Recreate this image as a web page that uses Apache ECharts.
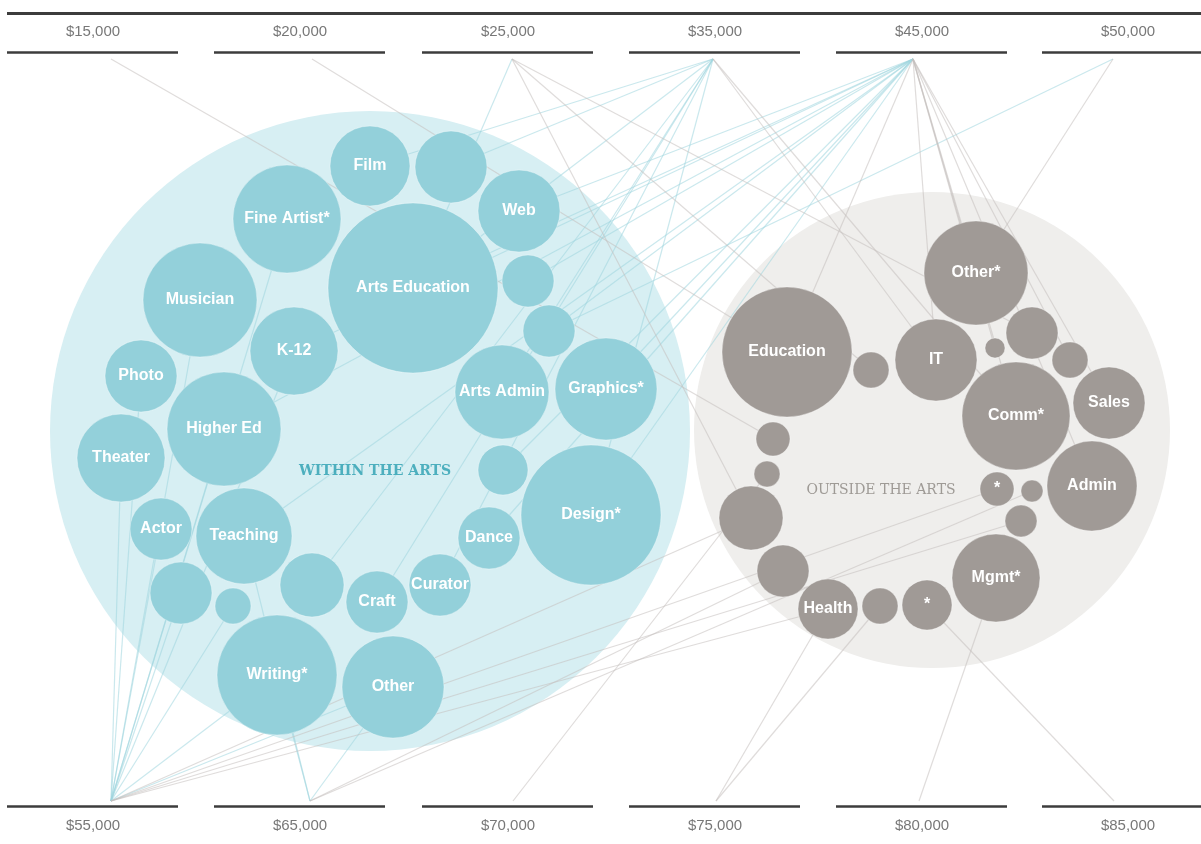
<!DOCTYPE html>
<html>
<head>
<meta charset="utf-8">
<script src="https://cdn.jsdelivr.net/npm/echarts@6/dist/echarts.min.js"></script>
<style>
html,body{margin:0;padding:0;background:#ffffff;}
#c{width:1201px;height:844px;}
</style>
</head>
<body>
<div id="c"></div>
<script>
// ---------- salary brackets (tick labels) ----------
const topSalaries = ['$15,000','$20,000','$25,000','$35,000','$45,000','$50,000'];
const bottomSalaries = ['$55,000','$65,000','$70,000','$75,000','$80,000','$85,000'];

// ---------- groups ----------
const groupNames = ['WITHIN THE ARTS','OUTSIDE THE ARTS'];
const groupRadius = [320, 238];

// ---------- occupations within the arts ----------
const withinNames = ['Film','','Web','Arts Education','','','Arts Admin','Graphics*','Fine Artist*','Musician',
  'K-12','Photo','Higher Ed','Theater','Actor','Teaching','','','','Writing*',
  'Craft','Curator','Dance','','Design*','Other'];
const withinRadius = [40,36,41,85,26,26,47,51,54,57, 44,36,57,44,31,48,31,18,32,60, 31,31,31,25,70,51];
const withinSalary = [
  ['$35,000'],['$35,000'],['$45,000'],['$25,000','$35,000','$45,000'],['$45,000'],['$45,000','$50,000'],
  ['$35,000'],['$45,000'],['$55,000'],['$55,000'],
  ['$45,000','$55,000'],['$55,000'],['$45,000','$55,000'],['$55,000'],['$55,000'],['$45,000','$65,000'],
  ['$55,000'],['$55,000'],['$35,000'],['$55,000','$65,000'],
  ['$35,000'],['$35,000'],['$45,000'],['$45,000'],['$45,000','$35,000'],['$55,000','$65,000']
];

// ---------- occupations outside the arts ----------
const outsideNames = ['Other*','Education','','IT','','','','Comm*','Sales','Admin',
  '*','','','Mgmt*','*','','Health','','','',''];
const outsideRadius = [52,65,18,41,10,26,18,54,36,45, 17,11,16,44,25,18,30,26,32,13,17];
const outsideSalary = [
  ['$45,000','$50,000'],['$45,000','$20,000'],['$25,000'],['$35,000','$45,000'],['$45,000'],['$25,000'],['$45,000'],
  ['$35,000','$45,000'],['$45,000'],['$45,000'],
  ['$55,000'],['$65,000'],['$55,000'],['$80,000'],['$85,000'],['$75,000'],['$75,000','$55,000'],
  ['$65,000'],['$25,000','$55,000'],['$70,000'],['$15,000']
];

// ---------- layout (pixel-like plane 1201 x 844) ----------
const layout = {
  groupX: [370, 932], groupY: [431, 430],
  groupLabelX: [375, 881], groupLabelY: [471, 490],
  withinX: [370,451,519,413,528,549,502,606,287,200, 294,141,224,121,161,244,181,233,312,277, 377,440,489,503,591,393],
  withinY: [166,167,211,288,281,331,392,389,219,300, 351,376,429,458,529,536,593,606,585,675, 602,585,538,470,515,687],
  outsideX: [976,787,871,936,995,1032,1070,1016,1109,1092, 997,1032,1021,996,927,880,828,783,751,767,773],
  outsideY: [273,352,370,360,348,333,360,416,403,486, 489,491,521,578,605,606,609,571,518,474,439],
  topAnchorX: [111,312,512,713,913,1113], topAnchorY: 59,
  bottomAnchorX: [111,310,513,716,919,1114], bottomAnchorY: 801,
  bracketStartX: [7,214,422,629,836,1042], bracketWidth: 171,
  topBracketY: 52, topLabelY: 32, topRuleY: 13,
  bottomBracketY: 806, bottomLabelY: 826
};

const TEAL = '#93d0da', TEAL_BG = '#d7eff3', GREY = '#a09a96', GREY_BG = '#efeeec';

const anchors = {};
topSalaries.forEach((s,i)=>{ anchors[s] = [layout.topAnchorX[i], layout.topAnchorY]; });
bottomSalaries.forEach((s,i)=>{ anchors[s] = [layout.bottomAnchorX[i], layout.bottomAnchorY]; });

function bubbleData(names, xs, ys, rs){
  return names.map((n,i)=>({name:n, value:[xs[i], ys[i], rs[i]]}));
}
function linkData(xs, ys, sal, color){
  const out = [];
  sal.forEach((list,i)=>{
    list.forEach(s=>{
      out.push({coords:[anchors[s], [xs[i], ys[i]]], lineStyle:{color:color}});
    });
  });
  return out;
}

const bracketLines = [];
layout.bracketStartX.forEach(x=>{
  const x2 = Math.min(x + layout.bracketWidth, 1201);
  bracketLines.push({coords:[[x, layout.topBracketY],[x2, layout.topBracketY]]});
  bracketLines.push({coords:[[x, layout.bottomBracketY],[x2, layout.bottomBracketY]]});
});
bracketLines.push({coords:[[7, layout.topRuleY],[1201, layout.topRuleY]], lineStyle:{width:3}});

const headerLabels = [];
topSalaries.forEach((s,i)=>headerLabels.push({name:s, value:[layout.bracketStartX[i] + 86, layout.topLabelY]}));
bottomSalaries.forEach((s,i)=>headerLabels.push({name:s, value:[layout.bracketStartX[i] + 86, layout.bottomLabelY]}));

const bubbleLabel = {
  show: true, position: 'inside', formatter: p => p.name,
  color: '#ffffff', fontFamily: 'Liberation Sans, Arial, sans-serif', fontSize: 16, fontWeight: 'bold'
};

const chart = echarts.init(document.getElementById('c'), null, {renderer:'canvas'});
chart.setOption({
  animation: false,
  backgroundColor: '#ffffff',
  grid: {left:0, right:0, top:0, bottom:0, containLabel:false},
  xAxis: {type:'value', min:0, max:1201, show:false},
  yAxis: {type:'value', min:0, max:844, inverse:true, show:false},
  series: [
    {
      type:'scatter', z:1, silent:true, clip:false,
      data: groupNames.map((n,i)=>({name:n, value:[layout.groupX[i], layout.groupY[i], groupRadius[i]],
        itemStyle:{color: i===0 ? TEAL_BG : GREY_BG, opacity: 1}})),
      symbolSize: v => v[2]*2
    },
    {
      type:'lines', coordinateSystem:'cartesian2d', z:2, silent:true,
      lineStyle:{width:1.2, opacity:0.55},
      data: linkData(layout.withinX, layout.withinY, withinSalary, '#9fd6de')
        .concat(linkData(layout.outsideX, layout.outsideY, outsideSalary, '#c4c0bd'))
    },
    {
      type:'scatter', z:3, silent:true, clip:false,
      data: bubbleData(withinNames, layout.withinX, layout.withinY, withinRadius),
      symbolSize: v => v[2]*2,
      itemStyle:{color:TEAL, opacity:1, borderColor:'rgba(255,255,255,0.35)', borderWidth:1},
      label: bubbleLabel
    },
    {
      type:'scatter', z:3, silent:true, clip:false,
      data: bubbleData(outsideNames, layout.outsideX, layout.outsideY, outsideRadius),
      symbolSize: v => v[2]*2,
      itemStyle:{color:GREY, opacity:1, borderColor:'rgba(255,255,255,0.35)', borderWidth:1},
      label: bubbleLabel
    },
    {
      type:'scatter', z:4, silent:true, clip:false,
      symbolSize: 0,
      data: groupNames.map((n,i)=>({name:n, value:[layout.groupLabelX[i], layout.groupLabelY[i]],
        label:{color: i===0 ? '#2a9fb0' : '#8a8580', fontWeight: i===0 ? 'bold' : 'normal'}})),
      label:{show:true, position:'inside', formatter:p=>p.name, fontFamily:'DejaVu Serif, serif', fontSize:14}
    },
    {
      type:'lines', coordinateSystem:'cartesian2d', z:4, silent:true,
      lineStyle:{color:'#3c3c3c', width:2.5, opacity:1},
      data: bracketLines
    },
    {
      type:'scatter', z:4, silent:true, clip:false, symbolSize:0,
      data: headerLabels,
      label:{show:true, position:'inside', formatter:p=>p.name, color:'#555555',
        fontFamily:'Liberation Sans, Arial, sans-serif', fontSize:15}
    }
  ]
});
</script>
</body>
</html>
